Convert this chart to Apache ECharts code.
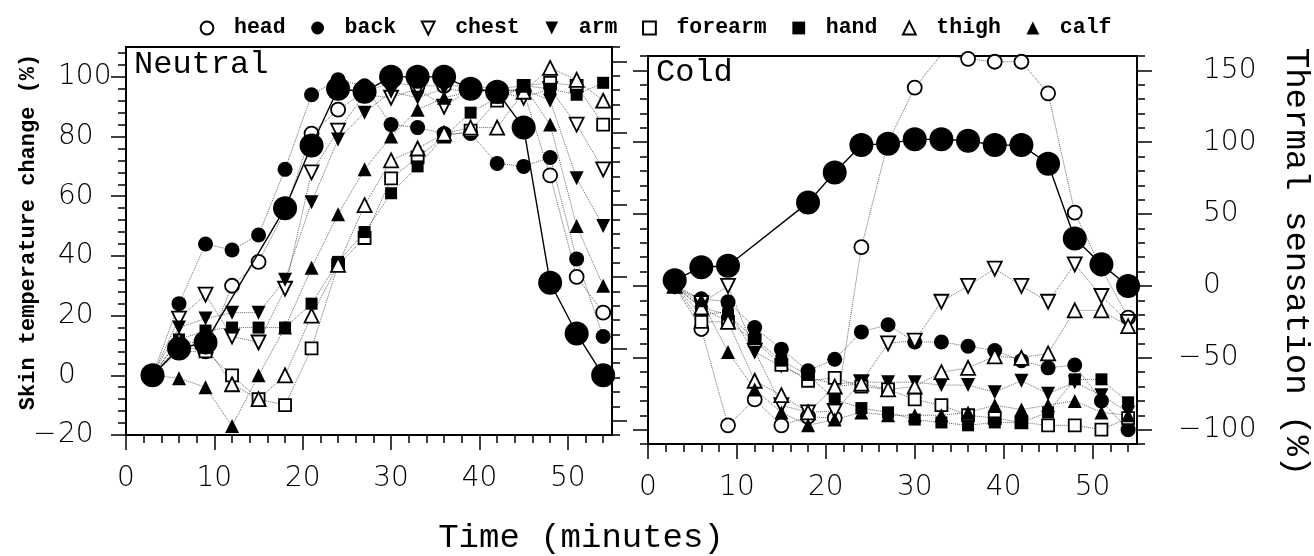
<!DOCTYPE html>
<html>
<head>
<meta charset="utf-8">
<script src="https://cdn.jsdelivr.net/npm/echarts@6/dist/echarts.min.js"></script>
<style>
  html, body { margin: 0; padding: 0; background: #fff; }
  #chart { width: 1314px; height: 556px; }
</style>
</head>
<body>
<div id="chart"></div>
<script>
// Sampling times (minutes), same for both panels
var times = [3, 6, 9, 12, 15, 18, 21, 24, 27, 30, 33, 36, 39, 42, 45, 48, 51, 54];
var parts = ['head', 'back', 'chest', 'arm', 'forearm', 'hand', 'thigh', 'calf'];

// Neutral panel, skin temperature change (%)
var neutralHead    = [0, 8, 8, 30, 38, 55, 81, 89, 95, 98, 97, 97, 97, 96, 95, 67, 33, 21];
var neutralBack    = [0, 24, 44, 42, 47, 69, 94, 99, 97, 84, 83, 81, 81, 71, 70, 73, 39, 13];
var neutralChest   = [0, 19, 27, 13, 11, 29, 68, 82, 94, 93, 96, 90, 96, 95, 93, 96, 84, 69];
var neutralArm     = [0, 16, 19, 21, 21, 32, 58, 79, 88, 95, 93, 96, 95, 95, 96, 92, 66, 50];
var neutralForearm = [0, 10, 8, 0, -8, -10, 9, 37, 46, 66, 73, 80, 82, 92, 97, 98, 97, 84];
var neutralHand    = [0, 12, 15, 16, 16, 16, 24, 38, 48, 61, 70, 80, 88, 93, 97, 96, 94, 98];
var neutralThigh   = [0, 12, 10, -3, -8, 0, 20, 37, 57, 72, 76, 81, 83, 83, 95, 103, 99, 92];
var neutralCalf    = [0, -1, -4, -17, 0, 16, 36, 54, 69, 80, 89, 93, 95, 96, 97, 84, 50, 30];
var neutralThermal = [0, 9, 11, null, null, 56, 77, 96, 95, 100, 100, 100, 96, 95, 83, 31, 14, 0];

// Cold panel, read on the thermal sensation scale (%)
var coldHead    = [0, -30, -97, -79, -97, -91, -92, 27, 100, 138, 161, 158, 156, 156, 134, 51, 12, -22];
var coldBack    = [0, -9, -11, -29, -44, -59, -51, -32, -27, -39, -39, -42, -45, -52, -57, -55, -80, -100];
var coldChest   = [0, -12, 0, -45, -83, -88, -87, -67, -40, -38, -11, 0, 12, 0, -11, 15, -7, -25];
var coldArm     = [0, -20, -18, -46, -56, -64, -68, -67, -67, -67, -69, -69, -74, -66, -75, -67, -76, -88];
var coldForearm = [0, -25, -25, -38, -55, -66, -64, -70, -72, -79, -83, -90, -92, -95, -97, -97, -100, -92];
var coldHand    = [0, -15, -20, -37, -52, -62, -79, -85, -88, -93, -95, -97, -95, -95, -88, -65, -65, -81];
var coldThigh   = [0, -15, -25, -66, -76, -88, -70, -68, -72, -70, -60, -57, -49, -50, -47, -17, -17, -28];
var coldCalf    = [0, -10, -46, -72, -88, -97, -93, -88, -90, -90, -90, -88, -83, -86, -83, -80, -88, -90];
var coldThermal = [4, 13, 14, null, null, 58, 79, 98, 99, 102, 102, 101, 98, 98, 85, 33, 15, 0];

var xLabels = [0, 10, 20, 30, 40, 50];
var skinLabels = [-20, 0, 20, 40, 60, 80, 100];
var sensLabels = [-100, -50, 0, 50, 100, 150];

var DOWN = 'path://M0,0L20,0L10,18Z';
var UP = 'path://M10,0L20,18L0,18Z';
var markers = [
  { symbol: 'circle', size: 14, open: true },
  { symbol: 'circle', size: 15, open: false },
  { symbol: DOWN, size: 14, open: true },
  { symbol: DOWN, size: 14, open: false },
  { symbol: 'rect', size: 12, open: true },
  { symbol: 'rect', size: 12, open: false },
  { symbol: UP, size: 14, open: true },
  { symbol: UP, size: 14, open: false }
];

var neutralSkin = [neutralHead, neutralBack, neutralChest, neutralArm, neutralForearm, neutralHand, neutralThigh, neutralCalf];
var coldSkin = [coldHead, coldBack, coldChest, coldArm, coldForearm, coldHand, coldThigh, coldCalf];

function steps(from, to, step) {
  var out = [];
  for (var v = from; v <= to + 1e-9; v += step) out.push(v);
  return out;
}

var tickFont = { color: '#000', fontFamily: 'DejaVu Sans', fontWeight: 200, fontSize: 28 };
var black = { color: '#000', width: 1.5 };

function sideLabel(v) {
  return (v < 0 ? '{m|\u2212}' : '{m| }') + '{n|' + Math.abs(v) + '}';
}
var sideRich = {
  m: { width: 25, color: '#000', fontFamily: 'DejaVu Sans', fontWeight: 200, fontSize: 28 },
  n: { color: '#000', fontFamily: 'DejaVu Sans', fontWeight: 200, fontSize: 28 }
};

function xAxes(g) {
  return [{
    gridIndex: g, type: 'value', position: 'bottom', min: 0, max: 55, interval: 2,
    axisLine: { onZero: false, lineStyle: { color: '#000', width: 2 } },
    axisTick: { length: 8, customValues: steps(0, 54, 2), lineStyle: black },
    axisLabel: { show: false }, splitLine: { show: false }
  }, {
    gridIndex: g, type: 'value', position: 'bottom', min: 0, max: 55, interval: 10,
    axisLine: { show: false, onZero: false },
    axisTick: { length: 15, customValues: xLabels, lineStyle: black },
    axisLabel: Object.assign({ customValues: xLabels, margin: 30 }, tickFont),
    splitLine: { show: false }
  }];
}

function yPair(g, pos, min, max, minorStep, majors, label) {
  var major = {
    gridIndex: g, type: 'value', position: pos, min: min, max: max,
    axisLine: { show: false, onZero: false },
    axisTick: { length: 15, customValues: majors, lineStyle: black },
    axisLabel: { show: false, customValues: majors },
    splitLine: { show: false }
  };
  if (label) {
    major.axisLabel = {
      show: true, customValues: majors, align: 'left', margin: label.margin,
      formatter: sideLabel, rich: sideRich
    };
  }
  return [{
    gridIndex: g, type: 'value', position: pos, min: min, max: max, interval: minorStep,
    axisLine: { onZero: false, lineStyle: { color: '#000', width: 2 } },
    axisTick: { length: 8, customValues: steps(min, max, minorStep), lineStyle: black },
    axisLabel: { show: false }, splitLine: { show: false }
  }, major];
}

var yAxes = []
  .concat(yPair(0, 'left', -20, 110, 4, skinLabels, { margin: 93 }))
  .concat(yPair(0, 'right', -110, 160, 10, sensLabels, null))
  .concat(yPair(1, 'left', -110, 160, 10, sensLabels, null))
  .concat(yPair(1, 'right', -110, 160, 10, sensLabels, { margin: 41 }));

function skinSeries(name, values, m, xi, yi) {
  return {
    name: name, type: 'line', xAxisIndex: xi, yAxisIndex: yi,
    data: times.map(function (t, i) { return [t, values[i]]; }),
    symbol: m.symbol, symbolSize: m.size,
    itemStyle: m.open
      ? { color: '#fff', borderColor: '#000', borderWidth: 1.8 }
      : { color: '#000', borderColor: '#000', borderWidth: 0 },
    lineStyle: { color: '#000', width: 1, type: 'dotted', opacity: 0.6 },
    emphasis: { disabled: true }, z: 3
  };
}

function thermalSeries(values, xi, yi) {
  return {
    name: 'thermal', type: 'line', xAxisIndex: xi, yAxisIndex: yi,
    data: times.map(function (t, i) { return [t, values[i]]; }),
    connectNulls: true, symbol: 'circle', symbolSize: 24,
    itemStyle: { color: '#000' },
    lineStyle: { color: '#000', width: 1.4 },
    emphasis: { disabled: true }, z: 4
  };
}

var series = [];
parts.forEach(function (p, i) { series.push(skinSeries(p, neutralSkin[i], markers[i], 0, 1)); });
series.push(thermalSeries(neutralThermal, 0, 1));
parts.forEach(function (p, i) { series.push(skinSeries(p, coldSkin[i], markers[i], 2, 7)); });
series.push(thermalSeries(coldThermal, 2, 7));

var chart = echarts.init(document.getElementById('chart'), null, { renderer: 'canvas' });

chart.setOption({
  animation: false,
  backgroundColor: '#fff',
  grid: [
    { left: 126, top: 47, width: 486, height: 388, show: true, borderColor: '#000', borderWidth: 2 },
    { left: 648, top: 56, width: 489, height: 388, show: true, borderColor: '#000', borderWidth: 2 }
  ],
  xAxis: xAxes(0).concat(xAxes(1)),
  yAxis: yAxes,
  legend: {
    left: 185, top: 17, padding: 0,
    itemWidth: 44, itemHeight: 16, itemGap: 10,
    selectedMode: false,
    data: parts,
    lineStyle: { color: 'rgba(0,0,0,0)', width: 0, opacity: 0 },
    textStyle: { color: '#000', fontFamily: 'Liberation Mono', fontWeight: 'bold', fontSize: 21.5 }
  },
  graphic: { elements: [
    { type: 'text', x: 134, y: 65, style: { text: 'Neutral', fill: '#000', fontFamily: 'Liberation Mono', fontSize: 32, align: 'left', verticalAlign: 'middle' } },
    { type: 'text', x: 656, y: 73, style: { text: 'Cold', fill: '#000', fontFamily: 'Liberation Mono', fontSize: 32, align: 'left', verticalAlign: 'middle' } },
    { type: 'text', x: 581, y: 538, style: { text: 'Time (minutes)', fill: '#000', fontFamily: 'Liberation Mono', fontSize: 34, align: 'center', verticalAlign: 'middle' } },
    { type: 'text', x: 28, y: 232, rotation: Math.PI / 2, style: { text: 'Skin temperature change (%)', fill: '#000', fontFamily: 'Liberation Mono', fontWeight: 'bold', fontSize: 22, align: 'center', verticalAlign: 'middle' } },
    { type: 'text', x: 1296, y: 262, rotation: -Math.PI / 2, style: { text: 'Thermal sensation (%)', fill: '#000', fontFamily: 'Liberation Mono', fontSize: 34, align: 'center', verticalAlign: 'middle' } }
  ] },
  series: series
});
</script>
</body>
</html>
